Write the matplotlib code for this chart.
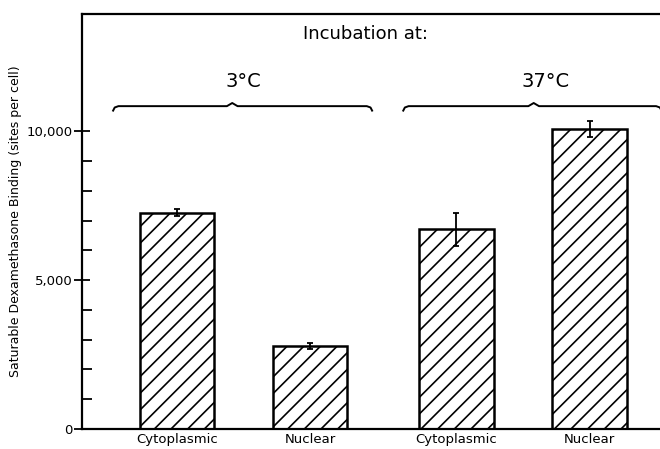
import matplotlib.pyplot as plt
import numpy as np
from matplotlib.ticker import FixedLocator

# data
categories = ['Cytoplasmic', 'Nuclear', 'Cytoplasmic', 'Nuclear']
groups = ['3°C', '37°C']
binding = [7260, 2780, 6700, 10070]
errors = [120, 110, 555, 270]

plt.rcParams['font.family'] = ['DejaVu Sans']
plt.rcParams['hatch.linewidth'] = 1.2

fig = plt.figure(figsize=(6.6, 4.49), dpi=100)
ax = fig.add_axes([0.1242, 0.0445, 0.876, 0.9254])

# two groups of two bars, extra gap between groups
pos = np.arange(4) + np.array([0, 0, 1, 1]) * 0.1 + 1.0
ax.bar(pos, binding, width=0.56, color='white', edgecolor='black',
       linewidth=1.8, hatch='//', zorder=2)
ax.errorbar(pos, binding, yerr=errors, fmt='none', ecolor='black',
            elinewidth=1.3, capsize=2.5, capthick=1.3, zorder=3)

ax.set_xlim(0.286, 4.63)
ax.set_ylim(0, 13950)
ax.set_xticks(pos)
ax.set_xticklabels(categories, fontsize=9.5)
ax.tick_params(axis='x', length=0, pad=3)

ax.yaxis.set_major_locator(FixedLocator([0, 5000, 10000]))
ax.yaxis.set_minor_locator(FixedLocator([1000, 2000, 3000, 4000, 6000, 7000, 8000, 9000]))
ax.set_yticklabels(['0', '5,000', '10,000'], fontsize=9.5)
ax.tick_params(axis='y', which='major', direction='inout', length=12, width=1.3, pad=1)
ax.tick_params(axis='y', which='minor', direction='in', length=7, width=1.3)
ax.set_ylabel('Saturable Dexamethasone Binding (sites per cell)', fontsize=9, labelpad=3)

for s in ['left', 'top', 'bottom']:
    ax.spines[s].set_linewidth(1.6)
ax.spines['right'].set_visible(False)

# group braces
def brace(x0, x1, y, xm):
    dx = 0.04
    dy = 150
    xs = [x0, x0 + dx * 0.3, x0 + dx, xm - dx, xm, xm + dx, x1 - dx, x1 - dx * 0.3, x1]
    ys = [y - dy, y - dy * 0.3, y, y, y + dy * 0.7, y, y, y - dy * 0.3, y - dy]
    ax.plot(xs, ys, color='black', lw=1.4, clip_on=False)

brace(0.52, 2.466, 10840, 1.415)
brace(2.70, 4.64, 10840, 3.68)
ax.text(1.5, 11350, groups[0], ha='center', va='bottom', fontsize=14)
ax.text(3.77, 11350, groups[1], ha='center', va='bottom', fontsize=14)
ax.text(2.42, 13250, 'Incubation at:', ha='center', va='center', fontsize=13)

fig.savefig('out.png', dpi=100)
